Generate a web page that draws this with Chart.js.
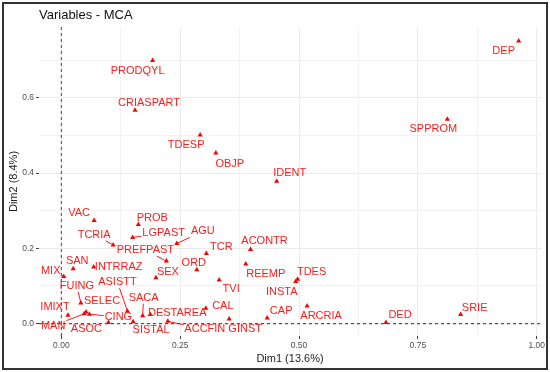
<!DOCTYPE html>
<html>
<head>
<meta charset="utf-8">
<script src="https://cdn.jsdelivr.net/npm/chart.js@4.4.1/dist/chart.umd.min.js"></script>
<style>
  html, body { margin: 0; padding: 0; background: #fff; }
  #wrap { width: 550px; height: 372px; position: relative; }
</style>
</head>
<body>
<div id="wrap"><canvas id="mca"></canvas></div>
<script>
// MCA variable categories, coordinates on Dim1 / Dim2
const cats = ["DEP", "PRODQYL", "CRIASPART", "SPPROM", "TDESP", "OBJP", "IDENT", "VAC", "PROB", "LGPAST",
  "TCRIA", "AGU", "PREFPAST", "TCR", "ACONTR", "SAN", "INTRRAZ", "MIX", "SEX", "ORD",
  "REEMP", "TDES", "INSTA", "TVI", "FUING", "ASISTT", "SELEC", "IMIXT", "MAN", "CING",
  "ASOC", "SACA", "DESTAREA", "SISTAL", "ACCFIN", "CAL", "GINST", "CAP", "ARCRIA", "DED", "SRIE"];
const dim1 = [0.962, 0.192, 0.155, 0.812, 0.292, 0.325, 0.453, 0.069, 0.162, 0.150,
  0.109, 0.243, 0.221, 0.305, 0.398, 0.025, 0.068, 0.005, 0.199, 0.285,
  0.388, 0.497, 0.493, 0.332, 0.041, 0.139, 0.052, 0.014, 0.048, 0.059,
  0.099, 0.171, 0.187, 0.151, 0.224, 0.304, 0.353, 0.433, 0.517, 0.683, 0.840];
const dim2 = [0.751, 0.699, 0.567, 0.543, 0.501, 0.453, 0.378, 0.274, 0.263, 0.229,
  0.209, 0.213, 0.166, 0.186, 0.197, 0.146, 0.150, 0.125, 0.122, 0.143,
  0.158, 0.118, 0.112, 0.116, 0.055, 0.033, 0.031, 0.022, 0.026, 0.025,
  0.003, 0.021, 0.024, 0.005, 0.006, 0.041, 0.012, 0.015, 0.047, 0.003, 0.024];

const xTicks = [0, 0.25, 0.5, 0.75, 1.0];
const xMinor = [0.125, 0.375, 0.625, 0.875];
const yTicks = [0, 0.2, 0.4, 0.6];
const yMinor = [0.1, 0.3, 0.5, 0.7];

// repelled label placement: pixel nudge from the point, and whether a segment is drawn
const nudge = [[-15, 10, 0], [-15, 10, 0], [14, -7, 0], [-14, 10, 0], [-14, 10, 0], [14, 11, 0], [13, -8, 0], [-15, -7, 0], [14, -7, 0], [31, -4, 1],
  [-19, -10, 1], [26, -12, 1], [-21, -11, 1], [15, -7, 0], [14, -8, 0], [4, -8, 0], [25, 0, 0], [-13, -6, 1], [12, -6, 0], [-3, -7, 0],
  [20, 10, 0], [14, -7, 0], [-14, 11, 0], [12, 9, 0], [-4, -17, 1], [-10, -29, 1], [16, -11, 0], [-13, -8, 0], [-31, 12, 1], [29, 3, 1],
  [-22, 7, 0], [1, -18, 1], [27, -2, 0], [18, 8, 0], [37, 8, 1], [17, -2, 0], [16, 10, 0], [14, -7, 0], [14, 10, 0], [14, -7, 0], [14, -7, 0]];

const mcaPlugin = {
  id: "mcaExtras",
  beforeDatasetsDraw(chart) {
    const { ctx, chartArea: a, scales: { x, y } } = chart;
    ctx.save();
    ctx.strokeStyle = "#555";
    ctx.lineWidth = 1.1;
    ctx.setLineDash([3, 3]);
    const px = x.getPixelForValue(0), py = y.getPixelForValue(0);
    ctx.beginPath();
    ctx.moveTo(px, a.top); ctx.lineTo(px, a.bottom);
    ctx.moveTo(a.left, py); ctx.lineTo(a.right, py);
    ctx.stroke();
    ctx.restore();
  },
  afterDatasetsDraw(chart) {
    const { ctx, scales: { x, y } } = chart;
    ctx.save();
    ctx.font = "11px 'Liberation Sans', Arial, sans-serif";
    ctx.textAlign = "center";
    ctx.textBaseline = "middle";
    cats.forEach((c, i) => {
      const px = x.getPixelForValue(dim1[i]), py = y.getPixelForValue(dim2[i]);
      const [dx, dy, seg] = nudge[i];
      const lx = px + dx, ly = py + dy;
      if (seg) {
        const hw = ctx.measureText(c).width / 2 + 1, hh = 6;
        // clip segment at the label box
        const t = Math.min(hw / Math.abs(dx || 1e-6), hh / Math.abs(dy || 1e-6));
        ctx.strokeStyle = "red";
        ctx.lineWidth = 0.9;
        ctx.beginPath();
        ctx.moveTo(px, py);
        ctx.lineTo(lx - dx * t, ly - dy * t);
        ctx.stroke();
      }
      ctx.fillStyle = "#ff1a1a";
      ctx.fillText(c, lx, ly);
    });
    ctx.restore();
  },
  afterDraw(chart) {
    const { ctx, chartArea: a } = chart;
    ctx.save();
    ctx.fillStyle = "#111";
    ctx.textBaseline = "middle";
    ctx.font = "13px 'Liberation Sans', Arial, sans-serif";
    ctx.textAlign = "left";
    ctx.fillText("Variables - MCA", a.left, 15);
    ctx.font = "11px 'Liberation Sans', Arial, sans-serif";
    ctx.fillStyle = "#222";
    ctx.textAlign = "center";
    ctx.fillText("Dim1 (13.6%)", (a.left + a.right) / 2, 359);
    ctx.translate(13.5, (a.top + a.bottom) / 2);
    ctx.rotate(-Math.PI / 2);
    ctx.fillText("Dim2 (8.4%)", 0, 0);
    ctx.restore();
    ctx.save();
    ctx.strokeStyle = "#333";
    ctx.lineWidth = 2;
    ctx.strokeRect(3, 3, 544, 366);
    ctx.restore();
  },
};

const isMajor = (list, v) => list.some((t) => Math.abs(t - v) < 1e-9);

new Chart(document.getElementById("mca"), {
  type: "scatter",
  data: {
    datasets: [
      {
        label: "Variables",
        data: cats.map((c, i) => ({ x: dim1[i], y: dim2[i] })),
        pointStyle: "triangle",
        pointRadius: 3,
        backgroundColor: "red",
        borderColor: "red",
        borderWidth: 0,
      },
    ],
  },
  options: {
    responsive: true,
    maintainAspectRatio: false,
    animation: false,
    layout: { padding: { left: 0, top: 27, right: 9, bottom: 0 } },
    plugins: { legend: { display: false }, tooltip: { enabled: false }, title: { display: false } },
    scales: {
      x: {
        type: "linear",
        min: -0.047,
        max: 1.009,
        afterBuildTicks: (s) => { s.ticks = [...xTicks, ...xMinor].sort((a, b) => a - b).map((v) => ({ value: v })); },
        afterFit: (s) => { s.height = 36; },
        border: { display: false },
        grid: {
          color: (c) => (c.tick && isMajor(xTicks, c.tick.value) ? "#ebebeb" : "#f2f2f2"),
          tickColor: (c) => (c.tick && isMajor(xTicks, c.tick.value) ? "#444" : "rgba(0,0,0,0)"),
          tickLength: 3,
        },
        ticks: {
          autoSkip: false,
          maxRotation: 0,
          padding: 2,
          color: "#4d4d4d",
          font: { family: "'Liberation Sans', Arial, sans-serif", size: 8.5 },
          callback: (v) => (isMajor(xTicks, v) ? v.toFixed(2) : ""),
        },
      },
      y: {
        type: "linear",
        min: -0.033,
        max: 0.788,
        afterBuildTicks: (s) => { s.ticks = [...yTicks, ...yMinor].sort((a, b) => a - b).map((v) => ({ value: v })); },
        afterFit: (s) => { s.width = 39; },
        border: { display: false },
        grid: {
          color: (c) => (c.tick && isMajor(yTicks, c.tick.value) ? "#ebebeb" : "#f2f2f2"),
          tickColor: (c) => (c.tick && isMajor(yTicks, c.tick.value) ? "#444" : "rgba(0,0,0,0)"),
          tickLength: 3,
        },
        ticks: {
          autoSkip: false,
          padding: 2,
          color: "#4d4d4d",
          font: { family: "'Liberation Sans', Arial, sans-serif", size: 8.5 },
          callback: (v) => (isMajor(yTicks, v) ? v.toFixed(1) : ""),
        },
      },
    },
  },
  plugins: [mcaPlugin],
});
</script>
</body>
</html>
